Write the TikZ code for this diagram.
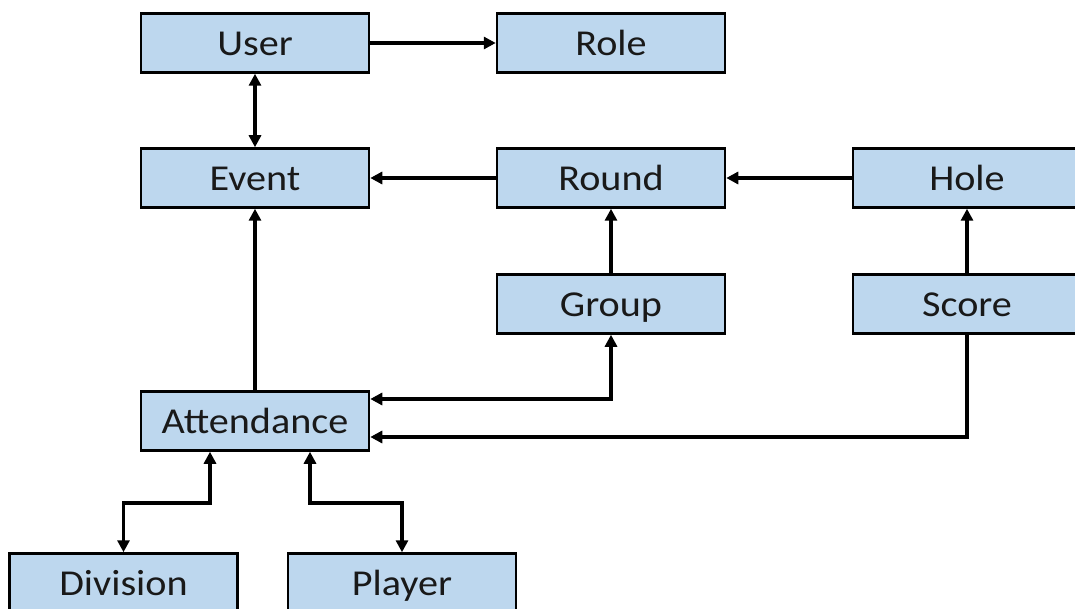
\documentclass[tikz,border=0pt]{standalone}
\usepackage{fontspec}
\setmainfont{Carlito}[FakeStretch=1.1]
\usetikzlibrary{arrows.meta}
\definecolor{boxfill}{RGB}{189,215,238}
\tikzset{
  ent/.style={draw=black, line width=2.5pt, fill=boxfill, minimum width=228pt, minimum height=59pt, inner sep=0pt, text height=25pt, text depth=0pt, font=\fontsize{36.5}{40}\selectfont, text=black!90},
  con/.style={line width=3.5pt, -{Triangle[length=12pt,width=12pt]}},
  bicon/.style={line width=3.5pt, {Triangle[length=12pt,width=12pt]}-{Triangle[length=12pt,width=12pt]}}
}
\begin{document}
\begin{tikzpicture}[x=1pt,y=-1pt]
\useasboundingbox (0,0) rectangle (1075,609);
\node[ent] (user) at (255,43) {User};
\node[ent] (role) at (611,43) {Role};
\node[ent] (event) at (255,178) {Event};
\node[ent] (round) at (611,178) {Round};
\node[ent] (hole) at (967,178) {Hole};
\node[ent] (group) at (611,304) {Group};
\node[ent] (score) at (967,304) {Score};
\node[ent] (att) at (255,421) {Attendance};
\node[ent] (div) at (123.5,583) {Division};
\node[ent] (player) at (402,583) {Player};
\draw[con] (user) -- (role);
\draw[bicon] (user) -- (event);
\draw[con] (round) -- (event);
\draw[con] (hole) -- (round);
\draw[con] (group) -- (round);
\draw[con] (score) -- (hole);
\draw[con] (att) -- (event);
\draw[bicon] (group.south) |- ([yshift=22pt]att.east);
\draw[con] (score.south) |- ([yshift=-16pt]att.east);
\draw[bicon] ([xshift=-45pt]att.south) -- ++(0,51) -| (div.north);
\draw[bicon] ([xshift=55pt]att.south) -- ++(0,51) -| (player.north);
\end{tikzpicture}
\end{document}
